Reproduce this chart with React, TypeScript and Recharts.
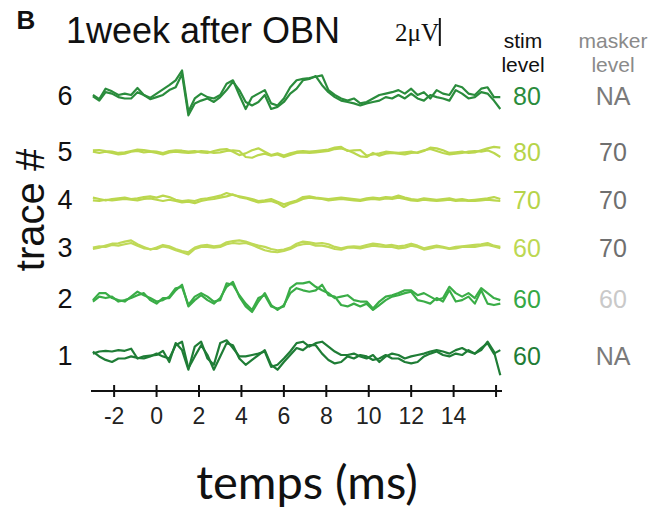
import { LineChart, Line, XAxis, YAxis, ReferenceLine } from 'recharts';

// time base (ms), one sample every 0.3 ms
const timeMs = [
  -3.0, -2.7, -2.4, -2.1, -1.8, -1.5, -1.2, -0.9, -0.6, -0.3, 0.0, 0.3, 0.6, 0.9, 1.2, 1.5, 1.8, 2.1, 2.4, 2.7,
  3.0, 3.3, 3.6, 3.9, 4.2, 4.5, 4.8, 5.1, 5.4, 5.7, 6.0, 6.3, 6.6, 6.9, 7.2, 7.5, 7.8, 8.1, 8.4, 8.7,
  9.0, 9.3, 9.6, 9.9, 10.2, 10.5, 10.8, 11.1, 11.4, 11.7, 12.0, 12.3, 12.6, 12.9, 13.2, 13.5, 13.8, 14.1, 14.4, 14.7,
  15.0, 15.3, 15.6, 15.9, 16.2,
];

// two repetitions per trace, in µV around the trace baseline
const trace1A = [
  0.1, 0.25, 0.3, 0.25, 0.35, 0.3, 0.45, -0.25, -0.1, -0.05, 0.0, 0.3, -0.5, 0.85, 0.35, -1.05, 0.6, 0.95, -0.25, -0.7,
  0.85, 1.05, 0.5, -0.1, -0.1, 0.0, 0.1, 0.25, -0.85, -0.7, -0.25, 0.25, 0.85, 0.95, 0.6, 0.85, 0.95, 0.6, 0.25, 0.0,
  0.0, 0.1, -0.1, -0.25, 0.0, -0.5, -0.1, 0.1, 0.0, -0.25, -0.1, 0.0, 0.1, 0.25, 0.35, 0.25, 0.1, 0.35, 0.5, 0.25,
  0.1, 0.35, 0.95, 0.25, -1.45,
];
const trace1B = [
  0.25, -0.1, -0.35, -0.5, -0.25, -0.25, -0.1, -0.2, -0.25, -0.1, 0.1, -0.1, -0.25, 0.7, 0.95, -0.95, -0.1, 0.7, 0.0, -1.05,
  -0.1, 0.85, 0.7, -0.25, -0.7, -0.35, 0.0, 0.35, -0.7, -1.05, -0.5, 0.0, 0.5, 0.35, 0.7, 0.7, 0.1, -0.35, -0.6, -0.5,
  -0.1, -0.25, 0.0, -0.1, -0.35, -0.25, 0.0, -0.25, -0.25, -0.5, -0.6, -0.5, -0.1, 0.1, 0.25, 0.0, -0.1, 0.1, 0.0, 0.35,
  0.1, 0.5, 0.85, 0.1, 0.35,
];
const trace2A = [
  -0.15, 0.35, 0.35, 0.0, -0.15, -0.25, 0.1, 0.45, 0.2, 0.0, -0.25, -0.15, 0.1, 0.7, 0.8, -0.5, 0.1, 0.35, 0.1, -0.25,
  -0.15, 1.05, 0.95, 0.2, -0.4, -0.85, 0.0, 0.2, -0.6, -0.75, -0.6, 0.7, 1.05, 1.05, 1.15, 0.8, 0.55, 0.35, 0.0, 0.1,
  0.2, -0.15, -0.25, -0.25, -0.75, -0.25, 0.1, 0.2, 0.35, 0.55, 0.55, 0.2, 0.35, 0.1, -0.15, 0.0, 0.8, 0.35, 0.1, 0.35,
  0.0, 0.7, 0.35, 0.0, -0.15,
];
const trace2B = [
  -0.25, 0.1, 0.0, 0.1, -0.25, -0.15, 0.0, 0.2, 0.35, -0.15, -0.4, 0.0, 0.0, 0.55, 0.95, -0.6, -0.15, 0.2, -0.15, -0.4,
  0.0, 0.8, 1.15, 0.1, -0.6, -1.0, -0.25, 0.35, -0.5, -0.85, -0.5, 0.35, 0.7, 0.55, 0.45, 0.55, 0.95, 0.2, 0.1, -0.5,
  -0.6, -0.4, -0.6, -0.4, -0.85, -0.5, -0.15, 0.1, 0.2, 0.35, 0.45, -0.15, -0.25, -0.4, 0.0, -0.25, 0.55, -0.25, -0.15, 0.1,
  -0.4, 0.55, -0.4, -0.5, -0.4,
];
const trace3A = [
  -0.17, -0.07, 0.07, 0.21, 0.24, 0.36, 0.45, 0.17, -0.02, -0.21, -0.07, 0.12, 0.02, -0.17, -0.31, -0.4, -0.07, 0.07, 0.12, 0.02,
  0.07, 0.31, 0.4, 0.45, 0.36, 0.21, 0.07, -0.02, -0.17, -0.26, -0.21, -0.07, 0.21, 0.36, 0.31, 0.21, 0.26, 0.17, -0.02, -0.12,
  -0.02, 0.02, -0.02, 0.12, 0.21, 0.17, 0.07, 0.12, 0.02, 0.07, 0.21, 0.07, -0.12, -0.02, 0.07, -0.02, -0.12, -0.02, 0.02, 0.07,
  0.12, 0.17, 0.26, 0.07, -0.02,
];
const trace3B = [
  -0.07, 0.02, -0.02, 0.12, 0.07, 0.17, 0.26, 0.07, -0.12, -0.17, -0.17, 0.02, -0.07, -0.26, -0.4, -0.55, -0.17, -0.02, -0.02, -0.07,
  -0.02, 0.17, 0.26, 0.21, 0.26, 0.12, -0.07, -0.26, -0.36, -0.4, -0.31, -0.17, 0.07, 0.17, 0.21, 0.07, 0.07, -0.02, -0.17, -0.21,
  -0.07, -0.07, -0.12, -0.02, 0.07, 0.02, -0.02, -0.02, -0.12, -0.07, 0.07, -0.02, -0.21, -0.12, -0.02, -0.07, -0.17, -0.12, -0.02, -0.02,
  -0.02, 0.07, 0.12, 0.02, -0.12,
];
const trace4A = [
  0.1, 0.0, -0.1, 0.0, 0.05, 0.1, 0.0, 0.05, 0.14, 0.19, 0.1, 0.24, 0.14, -0.05, -0.14, -0.1, -0.14, 0.0, 0.05, 0.14,
  0.24, 0.43, 0.29, 0.19, 0.1, 0.0, -0.14, -0.1, 0.0, -0.19, -0.38, -0.24, -0.1, 0.14, 0.19, 0.1, 0.05, 0.0, 0.05, 0.1,
  0.05, 0.0, -0.05, 0.05, 0.1, 0.05, 0.14, 0.1, 0.24, 0.1, 0.0, -0.05, 0.05, 0.0, -0.05, 0.0, 0.05, -0.05, 0.0, -0.1,
  -0.05, 0.0, 0.05, 0.14, 0.0,
];
const trace4B = [
  -0.1, -0.14, -0.05, -0.1, -0.05, 0.0, -0.05, -0.1, 0.0, 0.05, -0.05, -0.14, -0.05, -0.14, -0.24, -0.19, -0.29, -0.14, -0.05, 0.0,
  0.1, 0.19, 0.33, 0.14, 0.05, -0.1, -0.24, -0.19, -0.14, -0.29, -0.57, -0.33, -0.19, 0.0, 0.1, 0.05, 0.0, -0.1, -0.05, 0.0,
  -0.05, -0.1, -0.14, -0.05, 0.0, -0.05, 0.05, 0.0, 0.1, 0.0, -0.1, -0.14, -0.05, -0.1, -0.14, -0.1, -0.05, -0.14, -0.1, -0.14,
  -0.14, -0.1, -0.05, -0.1, -0.14,
];
const trace5A = [
  0.05, 0.07, 0.0, -0.05, -0.14, -0.1, 0.0, 0.1, 0.07, 0.0, -0.05, -0.14, 0.0, 0.05, 0.02, -0.05, 0.0, -0.1, -0.14, 0.0,
  0.1, 0.14, -0.05, -0.29, -0.17, 0.05, 0.19, -0.05, -0.29, -0.17, -0.33, -0.17, -0.05, 0.0, -0.05, 0.0, 0.05, 0.1, 0.24, 0.29,
  0.0, 0.05, 0.07, -0.33, -0.24, -0.17, -0.05, -0.1, -0.14, -0.1, -0.05, -0.14, 0.0, 0.24, 0.19, 0.05, -0.14, -0.1, -0.05, -0.14,
  -0.1, 0.05, 0.19, 0.29, 0.24,
];
const trace5B = [
  -0.05, -0.14, -0.05, -0.14, -0.24, -0.19, -0.05, 0.0, -0.1, -0.05, -0.14, -0.24, -0.1, -0.05, -0.1, -0.14, -0.1, 0.0, -0.05, -0.14,
  -0.1, 0.0, 0.05, 0.0, -0.43, -0.48, -0.29, -0.19, -0.33, -0.24, -0.43, -0.29, -0.14, -0.1, -0.14, -0.1, -0.05, 0.0, 0.14, 0.19,
  0.05, -0.14, -0.38, -0.43, -0.14, -0.33, -0.19, -0.14, -0.19, -0.24, -0.14, -0.1, 0.05, 0.14, 0.0, -0.14, -0.24, -0.19, -0.14, -0.05,
  0.0, -0.05, 0.05, -0.14, -0.43,
];
const trace6A = [
  0.0, -0.3, 0.45, 0.26, 0.0, 0.1, 0.0, 0.5, 0.0, -0.2, 0.1, 0.4, 0.7, 1.05, 1.75, -1.2, -0.25, 0.1, -0.15, -0.25,
  0.0, 0.8, 1.05, 0.0, -1.0, -0.15, 0.1, 0.35, -0.6, -0.75, -0.25, 0.55, 1.05, 1.15, 1.2, 1.3, 1.4, 0.35, 0.0, -0.25,
  -0.4, -0.25, -0.6, -0.5, -0.25, 0.0, 0.1, 0.2, 0.35, 0.1, 0.45, 0.0, 0.2, -0.25, 0.35, 0.1, 0.0, 0.7, 0.55, 0.1,
  0.0, 0.45, 0.55, -0.15, -0.15,
];
const trace6B = [
  -0.1, -0.4, 0.2, 0.1, -0.15, -0.25, -0.25, 0.2, 0.0, -0.3, -0.15, 0.0, 0.35, 0.55, 1.5, -1.45, -0.6, -0.4, -0.25, -0.5,
  -0.15, 0.35, 0.95, 0.35, -0.5, -0.75, -0.5, 0.0, -1.0, -0.85, -0.5, 0.1, 0.45, 1.05, 1.15, 1.35, 0.7, 0.2, -0.15, -0.4,
  -0.5, -0.6, -0.75, -0.6, -0.5, -0.4, -0.15, -0.25, 0.0, -0.25, 0.1, -0.25, -0.4, 0.0, -0.15, -0.25, -0.4, 0.35, 0.1, -0.25,
  -0.15, 0.2, 0.1, -0.4, -1.0,
];

const traceNumbers = [1, 2, 3, 4, 5, 6];
// vertical offset of each trace (µV above the time axis)
const traceBaselines = [2.57, 6.64, 10.31, 13.71, 17.14, 21.14];
const traceColors = ['#1f7d36', '#3aad47', '#bfd957', '#bbd74e', '#bbd74e', '#2a8c3c'];
const stimLevels = ['60', '60', '60', '70', '80', '80'];
const stimColors = ['#1f7d36', '#35a845', '#bcd852', '#b6d44a', '#b6d44a', '#2a8c3c'];
const maskerLevels = ['NA', '60', '70', '70', '70', 'NA'];
const maskerColors = ['#7a7a7a', '#c9c9c9', '#6f6f6f', '#6f6f6f', '#6f6f6f', '#7a7a7a'];

const xTicks = [-2, 0, 2, 4, 6, 8, 10, 12, 14, 16];
const xTickLabels = ['-2', '0', '2', '4', '6', '8', '10', '12', '14', ''];

const seriesA = [trace1A, trace2A, trace3A, trace4A, trace5A, trace6A];
const seriesB = [trace1B, trace2B, trace3B, trace4B, trace5B, trace6B];

const scaleBarTime = 13.35;
const scaleBarBase = 24.64;
const scaleBarSize = 2; // µV

const Y_DOMAIN: [number, number] = [0, 27.21];
const FONT = '"Liberation Sans", Arial, sans-serif';

const rows = timeMs.map((t, i) => {
  const row: Record<string, number> = { t };
  traceNumbers.forEach((n, k) => {
    row[`a${n}`] = traceBaselines[k] + seriesA[k][i];
    row[`b${n}`] = traceBaselines[k] + seriesB[k][i];
  });
  return row;
});

function XTick(props: any) {
  const { x, y, payload } = props;
  const i = xTicks.indexOf(payload.value);
  return (
    <g>
      <line x1={x} x2={x} y1={y - 6} y2={y + 6} stroke="#111" strokeWidth={2} />
      <text x={x} y={y + 33} textAnchor="middle" fontSize={23} fontFamily={FONT} fill="#222">
        {xTickLabels[i]}
      </text>
    </g>
  );
}

function TraceTick(props: any) {
  const { x, y, payload } = props;
  const i = traceBaselines.indexOf(payload.value);
  return (
    <text x={x - 26} y={y + 10} textAnchor="middle" fontSize={27} fontFamily={FONT} fill="#111">
      {traceNumbers[i]}
    </text>
  );
}

function LevelTick(props: any) {
  const { x, y, payload } = props;
  const i = traceBaselines.indexOf(payload.value);
  return (
    <g fontFamily={FONT} fontSize={25} textAnchor="middle">
      <text x={x + 25} y={y + 10} fill={stimColors[i]}>
        {stimLevels[i]}
      </text>
      <text x={x + 111} y={y + 10} fill={maskerColors[i]}>
        {maskerLevels[i]}
      </text>
    </g>
  );
}

const abs = (left: number, top: number, extra: React.CSSProperties = {}): React.CSSProperties => ({
  position: 'absolute',
  left,
  top,
  transform: 'translate(-50%, -50%)',
  whiteSpace: 'nowrap',
  lineHeight: 1,
  fontFamily: FONT,
  ...extra,
});

export default function App() {
  return (
    <div style={{ position: 'absolute', left: 0, top: 0, width: 659, height: 511, background: '#fff', overflow: 'hidden' }}>
      <LineChart
        width={659}
        height={511}
        data={rows}
        margin={{ top: 10, right: 0, bottom: 90, left: 0 }}
      >
        <XAxis
          dataKey="t"
          type="number"
          domain={[-3.09, 16.28]}
          allowDataOverflow
          ticks={xTicks}
          interval={0}
          tickSize={0}
          tickMargin={0}
          tickLine={false}
          axisLine={{ stroke: '#111', strokeWidth: 2 }}
          height={30}
          tick={(p: any) => <XTick {...p} />}
        />
        <YAxis
          yAxisId="left"
          type="number"
          domain={Y_DOMAIN}
          allowDataOverflow
          ticks={traceBaselines}
          interval={0}
          width={91}
          axisLine={false}
          tickLine={false}
          tickSize={0}
          tickMargin={0}
          tick={(p: any) => <TraceTick {...p} />}
        />
        <YAxis
          yAxisId="right"
          orientation="right"
          type="number"
          domain={Y_DOMAIN}
          allowDataOverflow
          ticks={traceBaselines}
          interval={0}
          width={157}
          axisLine={false}
          tickLine={false}
          tickSize={0}
          tickMargin={0}
          tick={(p: any) => <LevelTick {...p} />}
        />
        {traceNumbers.map((n, k) => (
          <Line
            key={`b${n}`}
            yAxisId="left"
            type="linear"
            dataKey={`b${n}`}
            stroke={traceColors[k]}
            strokeWidth={2.2}
            strokeLinejoin="round"
            dot={false}
            isAnimationActive={false}
          />
        ))}
        {traceNumbers.map((n, k) => (
          <Line
            key={`a${n}`}
            yAxisId="left"
            type="linear"
            dataKey={`a${n}`}
            stroke={traceColors[k]}
            strokeWidth={2.2}
            strokeLinejoin="round"
            dot={false}
            isAnimationActive={false}
          />
        ))}
        <ReferenceLine
          yAxisId="left"
          segment={[
            { x: scaleBarTime, y: scaleBarBase },
            { x: scaleBarTime, y: scaleBarBase + scaleBarSize },
          ]}
          stroke="#111"
          strokeWidth={2}
          ifOverflow="visible"
        />
      </LineChart>

      <div style={abs(26, 20, { fontSize: 26, fontWeight: 'bold', color: '#111' })}>B</div>
      <div style={abs(203, 31, { fontSize: 36, color: '#111' })}>1week after OBN</div>
      <div style={abs(417, 32, { fontSize: 25, color: '#111', fontFamily: '"Liberation Serif", serif' })}>2μV</div>
      <div style={abs(523, 40, { fontSize: 21, color: '#111' })}>stim</div>
      <div style={abs(523, 64, { fontSize: 21, color: '#111' })}>level</div>
      <div style={abs(613, 40, { fontSize: 21, color: '#8a8a8a' })}>masker</div>
      <div style={abs(613, 64, { fontSize: 21, color: '#8a8a8a' })}>level</div>
      <div style={abs(30, 210, { fontSize: 40, color: '#111', transform: 'translate(-50%, -50%) rotate(-90deg)' })}>
        trace #
      </div>
      <div style={abs(307, 481, { fontSize: 47, color: '#111', fontFamily: 'Lato, "Open Sans", sans-serif' })}>
        temps (ms)
      </div>
    </div>
  );
}
